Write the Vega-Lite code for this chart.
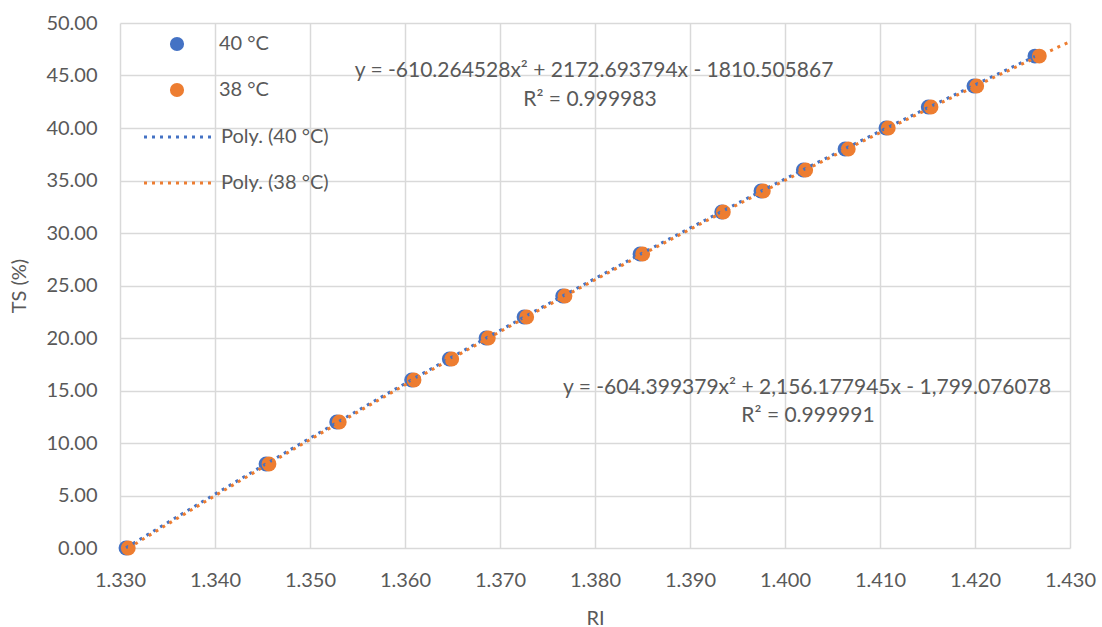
{
  "$schema": "https://vega.github.io/schema/vega-lite/v6.json",
  "width": 950,
  "height": 525,
  "autosize": {"type": "none"},
  "padding": {"left": 120, "top": 23, "right": 32, "bottom": 79},
  "background": "white",
  "config": {
    "font": "Lato",
    "view": {"stroke": null},
    "axis": {
      "domain": false,
      "ticks": false,
      "gridColor": "#D9D9D9",
      "gridWidth": 1.5,
      "labelFont": "Lato",
      "labelFontSize": 20,
      "labelColor": "#595959",
      "labelFlush": false,
      "titleFont": "Lato",
      "titleFontSize": 20,
      "titleColor": "#595959",
      "titleFontWeight": "normal"
    },
    "legend": {
      "labelFont": "Lato",
      "labelFontSize": 20,
      "labelColor": "#595959"
    }
  },
  "datasets": {
    "pts": [
      {"ri": 1.33063, "ts": 0, "series": "40 °C", "trend": "Poly. (40 °C)"},
      {"ri": 1.34537, "ts": 8, "series": "40 °C", "trend": "Poly. (40 °C)"},
      {"ri": 1.35281, "ts": 12, "series": "40 °C", "trend": "Poly. (40 °C)"},
      {"ri": 1.3607, "ts": 16, "series": "40 °C", "trend": "Poly. (40 °C)"},
      {"ri": 1.36466, "ts": 18, "series": "40 °C", "trend": "Poly. (40 °C)"},
      {"ri": 1.36853, "ts": 20, "series": "40 °C", "trend": "Poly. (40 °C)"},
      {"ri": 1.37253, "ts": 22, "series": "40 °C", "trend": "Poly. (40 °C)"},
      {"ri": 1.3766, "ts": 24, "series": "40 °C", "trend": "Poly. (40 °C)"},
      {"ri": 1.38474, "ts": 28, "series": "40 °C", "trend": "Poly. (40 °C)"},
      {"ri": 1.39334, "ts": 32, "series": "40 °C", "trend": "Poly. (40 °C)"},
      {"ri": 1.39747, "ts": 34, "series": "40 °C", "trend": "Poly. (40 °C)"},
      {"ri": 1.40193, "ts": 36, "series": "40 °C", "trend": "Poly. (40 °C)"},
      {"ri": 1.40632, "ts": 38, "series": "40 °C", "trend": "Poly. (40 °C)"},
      {"ri": 1.41063, "ts": 40, "series": "40 °C", "trend": "Poly. (40 °C)"},
      {"ri": 1.41508, "ts": 42, "series": "40 °C", "trend": "Poly. (40 °C)"},
      {"ri": 1.41989, "ts": 44, "series": "40 °C", "trend": "Poly. (40 °C)"},
      {"ri": 1.42631, "ts": 46.85, "series": "40 °C", "trend": "Poly. (40 °C)"},
      {"ri": 1.33087, "ts": 0, "series": "38 °C", "trend": "Poly. (38 °C)"},
      {"ri": 1.34568, "ts": 8, "series": "38 °C", "trend": "Poly. (38 °C)"},
      {"ri": 1.35308, "ts": 12, "series": "38 °C", "trend": "Poly. (38 °C)"},
      {"ri": 1.36095, "ts": 16, "series": "38 °C", "trend": "Poly. (38 °C)"},
      {"ri": 1.36492, "ts": 18, "series": "38 °C", "trend": "Poly. (38 °C)"},
      {"ri": 1.36877, "ts": 20, "series": "38 °C", "trend": "Poly. (38 °C)"},
      {"ri": 1.37281, "ts": 22, "series": "38 °C", "trend": "Poly. (38 °C)"},
      {"ri": 1.37684, "ts": 24, "series": "38 °C", "trend": "Poly. (38 °C)"},
      {"ri": 1.38502, "ts": 28, "series": "38 °C", "trend": "Poly. (38 °C)"},
      {"ri": 1.39351, "ts": 32, "series": "38 °C", "trend": "Poly. (38 °C)"},
      {"ri": 1.39772, "ts": 34, "series": "38 °C", "trend": "Poly. (38 °C)"},
      {"ri": 1.40218, "ts": 36, "series": "38 °C", "trend": "Poly. (38 °C)"},
      {"ri": 1.40666, "ts": 38, "series": "38 °C", "trend": "Poly. (38 °C)"},
      {"ri": 1.41087, "ts": 40, "series": "38 °C", "trend": "Poly. (38 °C)"},
      {"ri": 1.41537, "ts": 42, "series": "38 °C", "trend": "Poly. (38 °C)"},
      {"ri": 1.42018, "ts": 44, "series": "38 °C", "trend": "Poly. (38 °C)"},
      {"ri": 1.42677, "ts": 46.85, "series": "38 °C", "trend": "Poly. (38 °C)"}
    ],
    "notes": [
      {"ri": 1.3799, "ts": 45.46, "t": "y = -610.264528x² + 2172.693794x - 1810.505867"},
      {"ri": 1.37947, "ts": 42.7, "t": "R² = 0.999983"},
      {"ri": 1.40232, "ts": 15.27, "t": "y = -604.399379x² + 2,156.177945x - 1,799.076078"},
      {"ri": 1.40242, "ts": 12.6, "t": "R² = 0.999991"}
    ]
  },
  "encoding": {
    "x": {
      "field": "ri",
      "type": "quantitative",
      "scale": {"domain": [1.33, 1.43], "nice": false, "zero": false},
      "axis": {
        "values": [1.33, 1.34, 1.35, 1.36, 1.37, 1.38, 1.39, 1.4, 1.41, 1.42, 1.43],
        "format": ".3f",
        "title": "RI",
        "labelPadding": 22,
        "titlePadding": 18
      }
    },
    "y": {
      "field": "ts",
      "type": "quantitative",
      "scale": {"domain": [0, 50], "nice": false},
      "axis": {
        "values": [0, 5, 10, 15, 20, 25, 30, 35, 40, 45, 50],
        "format": ".2f",
        "title": "TS (%)",
        "labelPadding": 23,
        "titlePadding": 16
      }
    }
  },
  "layer": [
    {
      "data": {"name": "pts"},
      "mark": {"type": "point", "filled": true, "shape": "circle", "size": 220, "opacity": 1, "strokeWidth": 0},
      "encoding": {
        "fill": {
          "field": "series",
          "type": "nominal",
          "scale": {"domain": ["40 °C", "38 °C"], "range": ["#4472C4", "#ED7D31"]},
          "legend": {
            "title": null,
            "orient": "none",
            "legendX": 47,
            "legendY": 11,
            "symbolType": "circle",
            "symbolSize": 200,
            "symbolStrokeWidth": 0,
            "labelOffset": 32,
            "rowPadding": 26
          }
        }
      }
    },
    {
      "data": {"name": "pts"},
      "transform": [
        {"filter": "datum.series == '40 °C'"},
        {"regression": "ts", "on": "ri", "method": "poly", "order": 2, "groupby": ["trend"]}
      ],
      "mark": {"type": "line", "strokeWidth": 3, "strokeDash": [3, 5]},
      "encoding": {
        "stroke": {
          "field": "trend",
          "type": "nominal",
          "scale": {"domain": ["Poly. (40 °C)", "Poly. (38 °C)"], "range": ["#4472C4", "#ED7D31"]},
          "legend": {
            "title": null,
            "orient": "none",
            "legendX": 49,
            "legendY": 104,
            "symbolType": "M-7,0L7,0",
            "symbolSize": 100,
            "symbolStrokeWidth": 3,
            "symbolDash": [3, 5],
            "labelOffset": 32,
            "rowPadding": 26
          }
        }
      }
    },
    {
      "data": {"name": "pts"},
      "transform": [
        {"filter": "datum.series == '38 °C'"},
        {"regression": "ts", "on": "ri", "method": "poly", "order": 2, "groupby": ["trend"], "extent": [1.33087, 1.43]}
      ],
      "mark": {"type": "line", "strokeWidth": 3, "strokeDash": [3, 5]},
      "encoding": {
        "stroke": {"field": "trend", "type": "nominal"}
      }
    },
    {
      "data": {"name": "notes"},
      "mark": {"type": "text", "align": "center", "baseline": "middle", "fontSize": 21, "font": "Lato", "color": "#595959"},
      "encoding": {
        "text": {"field": "t", "type": "nominal"}
      }
    }
  ]
}
